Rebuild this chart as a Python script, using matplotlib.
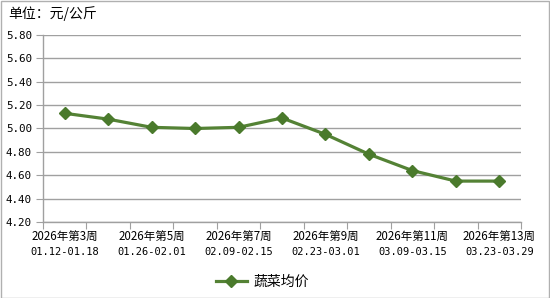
import matplotlib
matplotlib.use("Agg")
import matplotlib.pyplot as plt
from matplotlib.patches import Rectangle

plt.rcParams['font.family'] = ['Noto Sans CJK SC', 'DejaVu Sans']

weeks = ["2026年第3周", "2026年第4周", "2026年第5周", "2026年第6周", "2026年第7周",
         "2026年第8周", "2026年第9周", "2026年第10周", "2026年第11周", "2026年第12周",
         "2026年第13周"]
dates = ["01.12-01.18", "01.19-01.25", "01.26-02.01", "02.02-02.08", "02.09-02.15",
         "02.16-02.22", "02.23-03.01", "03.02-03.08", "03.09-03.15", "03.16-03.22",
         "03.23-03.29"]
prices = [5.13, 5.08, 5.01, 5.00, 5.01, 5.09, 4.95, 4.78, 4.64, 4.55, 4.55]
yticks = [4.20, 4.40, 4.60, 4.80, 5.00, 5.20, 5.40, 5.60, 5.80]
series_name = "蔬菜均价"
unit_label = "单位：元/公斤"

W, H = 550, 298
fig = plt.figure(figsize=(W / 100, H / 100), dpi=100)
fig.patches.append(Rectangle((0.5 / W, 0.5 / H), 1 - 1.5 / W, 1 - 1.5 / H,
                             transform=fig.transFigure, fill=False,
                             edgecolor='#b0b0b0', linewidth=1))

ax = fig.add_axes([43 / W, 1 - 222 / H, (521 - 43) / W, (222 - 35) / H])
x = list(range(len(prices)))
line_color = '#548235'
ax.plot(x, prices, color=line_color, linewidth=2.3, marker='D', markersize=6.5,
        markerfacecolor='#4a7a2c', markeredgecolor='#4a7a2c', label=series_name, zorder=3)

ax.set_xlim(-0.5, len(prices) - 0.5)
ax.set_ylim(4.20, 5.80)
ax.set_yticks(yticks)
ax.set_yticklabels([f"{v:.2f}" for v in yticks], fontsize=7.8,
                   family=['DejaVu Sans Mono'])
ax.yaxis.grid(True, color='#a0a0a0', linewidth=1)
ax.set_axisbelow(True)

ax.set_xticks([i - 0.5 for i in range(len(prices) + 1)])
ax.set_xticklabels([])
ax.set_xticks(x[::2], minor=True)
ax.set_xticklabels(weeks[::2], minor=True, fontsize=8.3)
ax.tick_params(axis='x', which='minor', length=0, pad=6)
ax.tick_params(axis='x', which='major', length=5, direction='out', color='#a0a0a0')
ax.tick_params(axis='y', length=5, direction='out', color='#a0a0a0', pad=3)

for xi in x[::2]:
    ax.annotate(dates[xi], xy=(xi, 0), xycoords=('data', 'axes fraction'),
                xytext=(0, -30), textcoords='offset pixels',
                ha='center', va='center', fontsize=7.5,
                family=['DejaVu Sans Mono'])

for s in ['top', 'right']:
    ax.spines[s].set_visible(False)
for s in ['left', 'bottom']:
    ax.spines[s].set_color('#a0a0a0')
    ax.spines[s].set_linewidth(1)

fig.text(8 / W, 1 - 14 / H, unit_label, fontsize=10, va='center', ha='left')

fig.legend(loc='center', bbox_to_anchor=(262 / W, 1 - 282 / H), frameon=False,
           fontsize=10, handlelength=2.3, handletextpad=0.4)

fig.savefig("out.png", dpi=100)
